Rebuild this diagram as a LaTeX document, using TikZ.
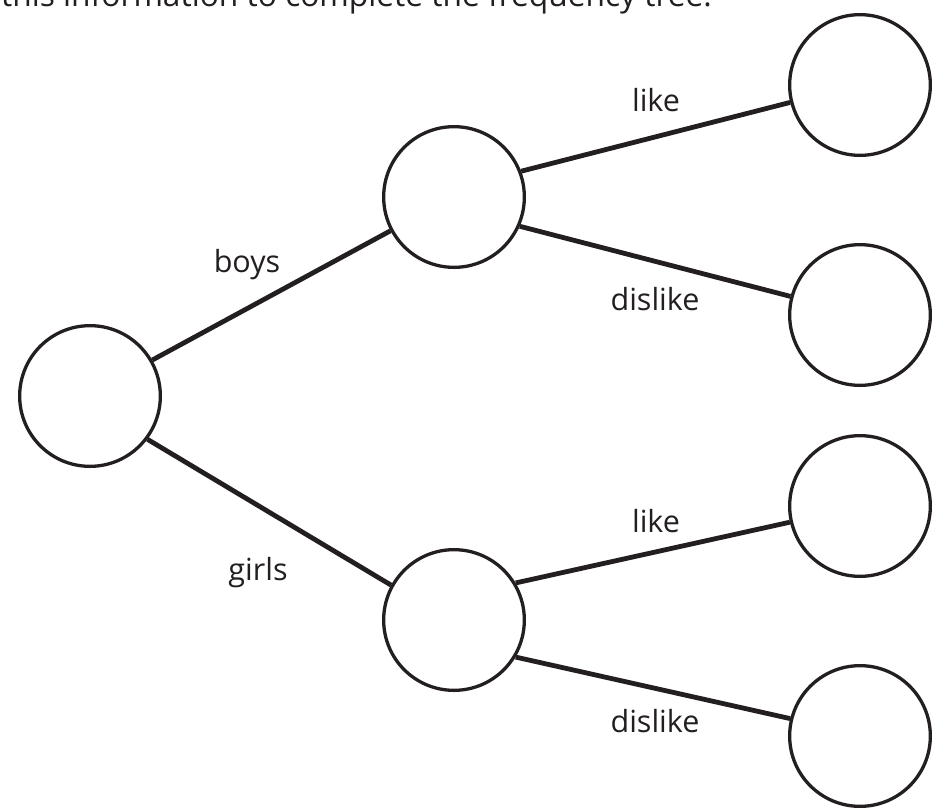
\documentclass[tikz,border=0pt]{standalone}
\usepackage{fontspec}
\setmainfont{Open Sans}
\begin{document}
\begin{tikzpicture}[x=1pt,y=-1pt,
  ball/.style={circle,draw={rgb,255:red,35;green,31;blue,32},line width=3.3pt,minimum size=140.7pt,inner sep=0pt},
  edge/.style={draw={rgb,255:red,35;green,31;blue,32},line width=4.8pt},
  lab/.style={anchor=base,inner sep=0pt,text={rgb,255:red,35;green,31;blue,32},font=\fontsize{30.5}{36}\selectfont}]
\useasboundingbox (0,0) rectangle (932,807);
\node[lab,anchor=base west,font=\fontsize{31.7}{36}\selectfont] (title) at (1,6) {this information to complete the frequency tree.};
\node[ball] (root) at (90,396) {};
\node[ball] (b) at (454,197) {};
\node[ball] (g) at (454,620) {};
\node[ball] (l1) at (860,85) {};
\node[ball] (l2) at (860,315) {};
\node[ball] (l3) at (860,506) {};
\node[ball] (l4) at (860,736) {};
\draw[edge] (root.30) -- (b.208.7);
\draw[edge] (root.-37) -- (g.151.3);
\draw[edge] (b.21.5) -- (l1.194.6);
\draw[edge] (b.-24) -- (l2.165.6);
\draw[edge] (g.31) -- (l3.193.7);
\draw[edge] (g.-31) -- (l4.166.3);
\node[lab] (tboys) at (247,272) {boys};
\node[lab] (tgirls) at (258,580) {girls};
\node[lab] (tlike1) at (656,111) {like};
\node[lab] (tdis1) at (655,310) {dislike};
\node[lab] (tlike2) at (656,532) {like};
\node[lab] (tdis2) at (655,732) {dislike};
\end{tikzpicture}
\end{document}
